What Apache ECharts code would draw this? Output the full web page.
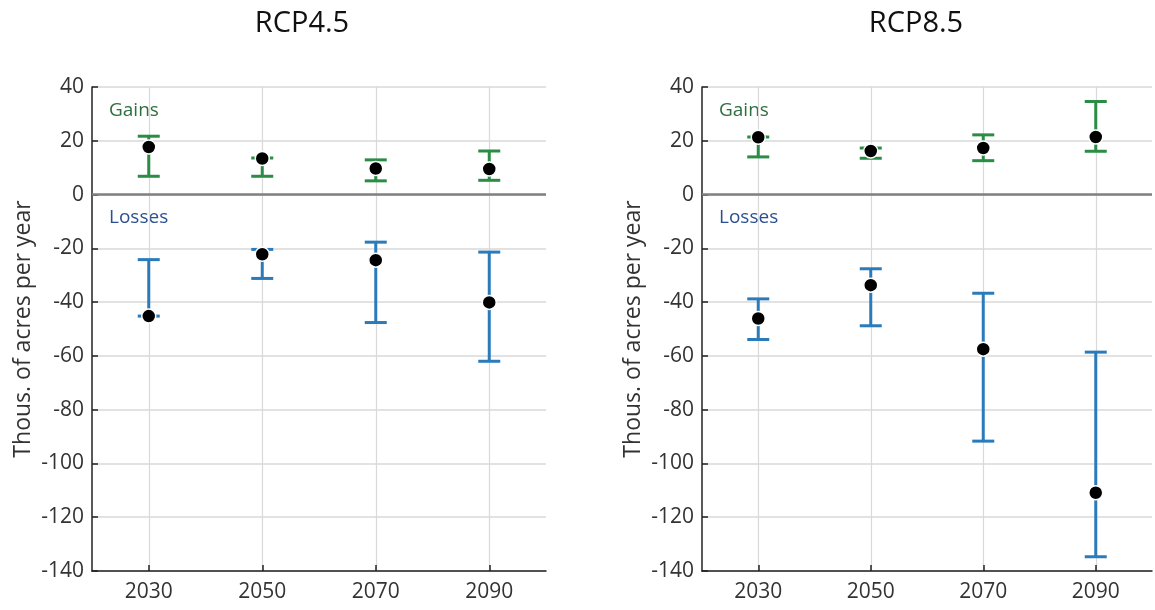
<!DOCTYPE html>
<html>
<head>
<meta charset="utf-8">
<script src="https://cdn.jsdelivr.net/npm/echarts@6/dist/echarts.min.js"></script>
<style>html,body{margin:0;padding:0;background:#fff}#c{width:1155px;height:610px}</style>
</head>
<body>
<div id="c"></div>
<script>
const years = [2030, 2050, 2070, 2090];
const yTicks = [-140, -120, -100, -80, -60, -40, -20, 0, 20, 40];
const panelTitles = ['RCP4.5', 'RCP8.5'];

const rcp45GainLow  = [6.8, 6.8, 5.1, 5.3];
const rcp45GainHigh = [21.7, 13.6, 12.9, 16.2];
const rcp45GainMean = [17.7, 13.4, 9.7, 9.5];
const rcp45LossLow  = [-45.2, -31.2, -47.6, -62.0];
const rcp45LossHigh = [-24.2, -20.4, -17.7, -21.4];
const rcp45LossMean = [-45.2, -22.2, -24.4, -40.1];

const rcp85GainLow  = [14.0, 13.5, 12.6, 16.1];
const rcp85GainHigh = [21.4, 17.3, 22.2, 34.6];
const rcp85GainMean = [21.3, 16.2, 17.3, 21.4];
const rcp85LossLow  = [-53.9, -48.8, -91.7, -134.7];
const rcp85LossHigh = [-38.8, -27.6, -36.7, -58.6];
const rcp85LossMean = [-46.1, -33.7, -57.5, -110.9];

const GREEN = '#2a8c45', BLUE = '#2b7bbb';
const FONT = '"Open Sans", "Noto Sans", sans-serif';

function errRender(color) {
  return function (params, api) {
    const x = api.value(0), lo = api.value(1), hi = api.value(2);
    const pLo = api.coord([x, lo]), pHi = api.coord([x, hi]);
    const hw = 11;
    const style = { stroke: color, lineWidth: 3, fill: null };
    return { type: 'group', children: [
      { type: 'line', shape: { x1: pLo[0], y1: pLo[1], x2: pHi[0], y2: pHi[1] }, style },
      { type: 'line', shape: { x1: pLo[0] - hw, y1: pLo[1], x2: pLo[0] + hw, y2: pLo[1] }, style },
      { type: 'line', shape: { x1: pHi[0] - hw, y1: pHi[1], x2: pHi[0] + hw, y2: pHi[1] }, style }
    ]};
  };
}
function zip3(a, b, c) { return a.map((v, i) => [v, b[i], c[i]]); }
function zip2(a, b) { return a.map((v, i) => [v, b[i]]); }

const grids = [
  { left: 92, width: 454, top: 87, height: 484 },
  { left: 702, width: 450, top: 87, height: 484 }
];

const xAxes = grids.map((g, i) => ({
  gridIndex: i, type: 'value', min: 2020, max: 2100,
  axisLine: { show: true, onZero: false, lineStyle: { color: '#222', width: 1.5 } },
  axisTick: { show: true, inside: true, length: 6, customValues: years, lineStyle: { color: '#222', width: 1.5 } },
  axisLabel: { customValues: years, fontSize: 21, color: '#333', margin: 11, fontFamily: FONT, formatter: v => String(v) },
  splitLine: { show: true, lineStyle: { color: '#d9d9d9', width: 1.2 } }
}));
const yAxes = grids.map((g, i) => ({
  gridIndex: i, type: 'value', min: -140, max: 40, interval: 20,
  name: 'Thous. of acres per year', nameLocation: 'middle', nameGap: 57,
  nameTextStyle: { fontSize: 23, color: '#333', fontFamily: FONT },
  axisLine: { show: true, lineStyle: { color: '#222', width: 1.5 } },
  axisTick: { show: true, inside: true, length: 6, lineStyle: { color: '#222', width: 1.5 } },
  axisLabel: { fontSize: 21, color: '#333', margin: 8, fontFamily: FONT,
    formatter: v => yTicks.includes(v) ? String(v) : '' },
  splitLine: { show: true, lineStyle: { color: '#d9d9d9', width: 1.5 } }
}));

const panels = [
  [rcp45GainLow, rcp45GainHigh, rcp45GainMean, rcp45LossLow, rcp45LossHigh, rcp45LossMean],
  [rcp85GainLow, rcp85GainHigh, rcp85GainMean, rcp85LossLow, rcp85LossHigh, rcp85LossMean]
];
const series = [];
panels.forEach((p, i) => {
  series.push({ type: 'custom', xAxisIndex: i, yAxisIndex: i, renderItem: errRender(GREEN), data: zip3(years, p[0], p[1]), z: 3,
    markLine: { silent: true, symbol: 'none', label: { show: false }, data: [{ yAxis: 0 }],
      lineStyle: { color: '#808080', width: 2.5, type: 'solid' } } });
  series.push({ type: 'custom', xAxisIndex: i, yAxisIndex: i, renderItem: errRender(BLUE), data: zip3(years, p[3], p[4]), z: 3 });
  series.push({ type: 'scatter', xAxisIndex: i, yAxisIndex: i, data: zip2(years, p[2]), symbolSize: 14, z: 5,
    itemStyle: { color: '#000', borderColor: '#fff', borderWidth: 1.5, opacity: 1 } });
  series.push({ type: 'scatter', xAxisIndex: i, yAxisIndex: i, data: zip2(years, p[5]), symbolSize: 14, z: 5,
    itemStyle: { color: '#000', borderColor: '#fff', borderWidth: 1.5, opacity: 1 } });
});

const chart = echarts.init(document.getElementById('c'));
chart.setOption({
  animation: false,
  backgroundColor: '#fff',
  title: [
    { text: panelTitles[0], left: 297, top: 4, textAlign: 'center', textStyle: { fontSize: 29, fontWeight: 'normal', color: '#111', fontFamily: FONT } },
    { text: panelTitles[1], left: 911, top: 4, textAlign: 'center', textStyle: { fontSize: 29, fontWeight: 'normal', color: '#111', fontFamily: FONT } }
  ],
  grid: grids,
  xAxis: xAxes,
  yAxis: yAxes,
  graphic: [
    { type: 'text', left: 109, top: 101, style: { text: 'Gains', fontSize: 19, fill: '#2f6e3e', fontFamily: FONT } },
    { type: 'text', left: 109, top: 208, style: { text: 'Losses', fontSize: 19, fill: '#2b4f90', fontFamily: FONT } },
    { type: 'text', left: 719, top: 101, style: { text: 'Gains', fontSize: 19, fill: '#2f6e3e', fontFamily: FONT } },
    { type: 'text', left: 719, top: 208, style: { text: 'Losses', fontSize: 19, fill: '#2b4f90', fontFamily: FONT } }
  ],
  series
});
</script>
</body>
</html>
